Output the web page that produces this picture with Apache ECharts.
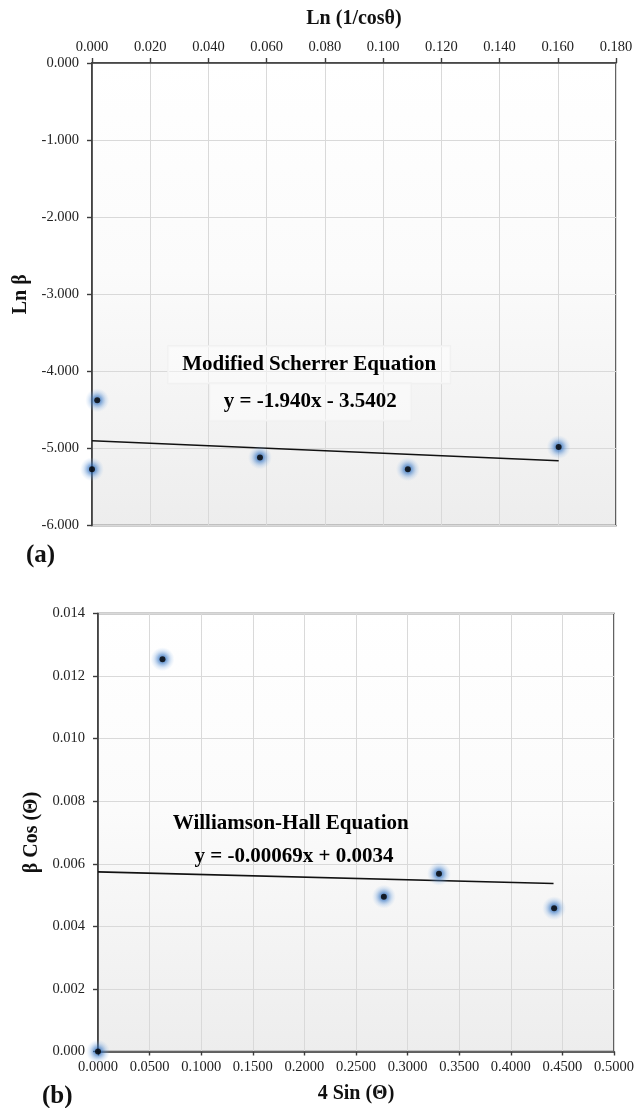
<!DOCTYPE html>
<html>
<head>
<meta charset="utf-8">
<script src="https://cdn.jsdelivr.net/npm/echarts@6/dist/echarts.min.js"></script>
<style>
html,body{margin:0;padding:0;background:#fff;}
#chart{width:644px;height:1108px;}
</style>
</head>
<body>
<div id="chart"></div>
<script>
// ---- Chart (a): Modified Scherrer ----
const xTickLabelsA = ['0.000','0.020','0.040','0.060','0.080','0.100','0.120','0.140','0.160','0.180'];
const yTickLabelsA = ['-6.000','-5.000','-4.000','-3.000','-2.000','-1.000','0.000'];
const lnInvCos = [0.0000, 0.0018, 0.0577, 0.1085, 0.1603];
const lnBeta   = [-5.270, -4.375, -5.117, -5.270, -4.983];
const trendAX  = [0.0000, 0.1603];
const trendAY  = [-4.900, -5.160];
const labelA1 = 'Modified Scherrer Equation';
const labelA2 = 'y = -1.940x - 3.5402';

// ---- Chart (b): Williamson-Hall ----
const xTickLabelsB = ['0.0000','0.0500','0.1000','0.1500','0.2000','0.2500','0.3000','0.3500','0.4000','0.4500','0.5000'];
const yTickLabelsB = ['0.000','0.002','0.004','0.006','0.008','0.010','0.012','0.014'];
const fourSin  = [0.0000, 0.0625, 0.2770, 0.3304, 0.4420];
const betaCos  = [0.00000, 0.01254, 0.00495, 0.00568, 0.00458];
const trendBX  = [0.0000, 0.4414];
const trendBY  = [0.00574, 0.00537];
const labelB1 = 'Williamson-Hall Equation';
const labelB2 = 'y = -0.00069x + 0.0034';

const FONT = '"Liberation Serif","Times New Roman",serif';
const chart = echarts.init(document.getElementById('chart'), null, {renderer:'canvas'});

function zip(a,b){return a.map((v,i)=>[v,b[i]]);}
function ticksInfo(labels){
  const vals = labels.map(Number);
  return {min: vals[0], max: vals[vals.length-1], interval: (vals[vals.length-1]-vals[0])/(vals.length-1)};
}
function fmt(labels){
  const t = ticksInfo(labels);
  return v => { const i = Math.round((v - t.min)/t.interval); return labels[i] !== undefined ? labels[i] : ''; };
}
function mkBg(){
  return new echarts.graphic.LinearGradient(0,0,0,1,[
    {offset:0,color:'#ffffff'},{offset:0.45,color:'#fbfbfb'},{offset:1,color:'#ededed'}]);
}
function mkGlow(){
  return new echarts.graphic.RadialGradient(0.5,0.5,0.5,[
    {offset:0,color:'rgba(25,85,170,1)'},
    {offset:0.35,color:'rgba(50,115,195,0.75)'},
    {offset:0.7,color:'rgba(110,160,220,0.3)'},
    {offset:1,color:'rgba(150,190,235,0)'}]);
}

const axisLine = {show:true, lineStyle:{color:'#3c3c3c', width:1.6}};
const axisTick = {show:true, length:5, lineStyle:{color:'#3c3c3c', width:1.4}};
const splitLine = {show:true, lineStyle:{color:'#d9d9d9', width:1}};
const tickLabel = {color:'#222', fontFamily:FONT, fontSize:14.5};
const nameStyle = {color:'#111', fontFamily:FONT, fontSize:20, fontWeight:'bold'};

const ta = ticksInfo(xTickLabelsA), tya = ticksInfo(yTickLabelsA);
const tb = ticksInfo(xTickLabelsB), tyb = ticksInfo(yTickLabelsB);

function textSeries(xi, yi, x, y, text, box){
  return {
    type:'scatter', xAxisIndex:xi, yAxisIndex:yi, symbol:'circle', symbolSize:2, silent:true, z:6, clip:false,
    itemStyle:{color:'rgba(0,0,0,0)', opacity:1},
    emphasis:{disabled:true},
    data:[[x,y]],
    label:{show:true, position:[1,1], align:'center', verticalAlign:'middle', formatter:text,
      color:'#000', opacity:1, fontFamily:FONT, fontSize:21, fontWeight:'bold',
      textBorderWidth:0,
      backgroundColor: box ? 'rgba(255,255,255,0.45)' : 'transparent',
      borderColor: box ? '#f0f0f0' : 'transparent', borderWidth: box ? 1 : 0,
      padding: box ? [8,14] : 0}
  };
}
function glowSeries(xi, yi, xs, ys){
  return {type:'scatter', xAxisIndex:xi, yAxisIndex:yi, data:zip(xs,ys), symbol:'circle', symbolSize:24,
    itemStyle:{color:mkGlow()}, z:3, clip:false, silent:true};
}
function dotSeries(xi, yi, xs, ys){
  return {type:'scatter', xAxisIndex:xi, yAxisIndex:yi, data:zip(xs,ys), symbol:'circle', symbolSize:6,
    itemStyle:{color:'#000'}, z:4, clip:false};
}

const option = {
  animation:false,
  backgroundColor:'#ffffff',
  grid:[
    {left:92, top:63, width:524, height:462.5, show:true, backgroundColor:mkBg(), borderColor:'#3c3c3c', borderWidth:1.6},
    {left:98, top:613.5, width:516, height:438, show:true, backgroundColor:mkBg(), borderColor:'#3c3c3c', borderWidth:1.6}
  ],
  xAxis:[
    {gridIndex:0, type:'value', position:'top', min:ta.min, max:ta.max, interval:ta.interval,
     name:'Ln (1/cosθ)', nameLocation:'middle', nameGap:34, nameTextStyle:nameStyle,
     axisLine, axisTick, splitLine, axisLabel:Object.assign({margin:8, formatter:fmt(xTickLabelsA)}, tickLabel)},
    {gridIndex:1, type:'value', position:'bottom', min:tb.min, max:tb.max, interval:tb.interval,
     name:'4 Sin (Θ)', nameLocation:'middle', nameGap:32, nameTextStyle:nameStyle,
     axisLine, axisTick:{show:true, length:4, lineStyle:{color:'#3c3c3c', width:1.4}}, splitLine,
     axisLabel:Object.assign({margin:8, formatter:fmt(xTickLabelsB)}, tickLabel)}
  ],
  yAxis:[
    {gridIndex:0, type:'value', min:tya.min, max:tya.max, interval:tya.interval,
     name:'Ln β', nameLocation:'middle', nameGap:57, nameTextStyle:nameStyle,
     axisLine, axisTick, splitLine, axisLabel:Object.assign({margin:13, formatter:fmt(yTickLabelsA)}, tickLabel)},
    {gridIndex:1, type:'value', min:tyb.min, max:tyb.max, interval:tyb.interval,
     name:'β Cos (Θ)', nameLocation:'middle', nameGap:55, nameTextStyle:nameStyle,
     axisLine, axisTick, splitLine, axisLabel:Object.assign({margin:13, formatter:fmt(yTickLabelsB)}, tickLabel)}
  ],
  graphic:[
    {type:'text', left:26, top:543, style:{text:'(a)', font:'bold 25px '+FONT, fill:'#111'}},
    {type:'text', left:42, top:1084, style:{text:'(b)', font:'bold 25px '+FONT, fill:'#111'}}
  ],
  series:[
    {type:'line', xAxisIndex:0, yAxisIndex:0, data:zip(trendAX,trendAY), showSymbol:false, symbol:'none',
     lineStyle:{color:'#111', width:1.6}, z:2, silent:true},
    glowSeries(0,0,lnInvCos,lnBeta),
    dotSeries(0,0,lnInvCos,lnBeta),
    textSeries(0,0,0.0746,-3.913,labelA1,true),
    textSeries(0,0,0.0750,-4.397,labelA2,true),
    {type:'line', xAxisIndex:1, yAxisIndex:1, data:zip(trendBX,trendBY), showSymbol:false, symbol:'none',
     lineStyle:{color:'#111', width:1.6}, z:2, silent:true},
    glowSeries(1,1,fourSin,betaCos),
    dotSeries(1,1,fourSin,betaCos),
    textSeries(1,1,0.1868,0.00730,labelB1,false),
    textSeries(1,1,0.1900,0.006226,labelB2,false)
  ]
};
chart.setOption(option);
</script>
</body>
</html>
